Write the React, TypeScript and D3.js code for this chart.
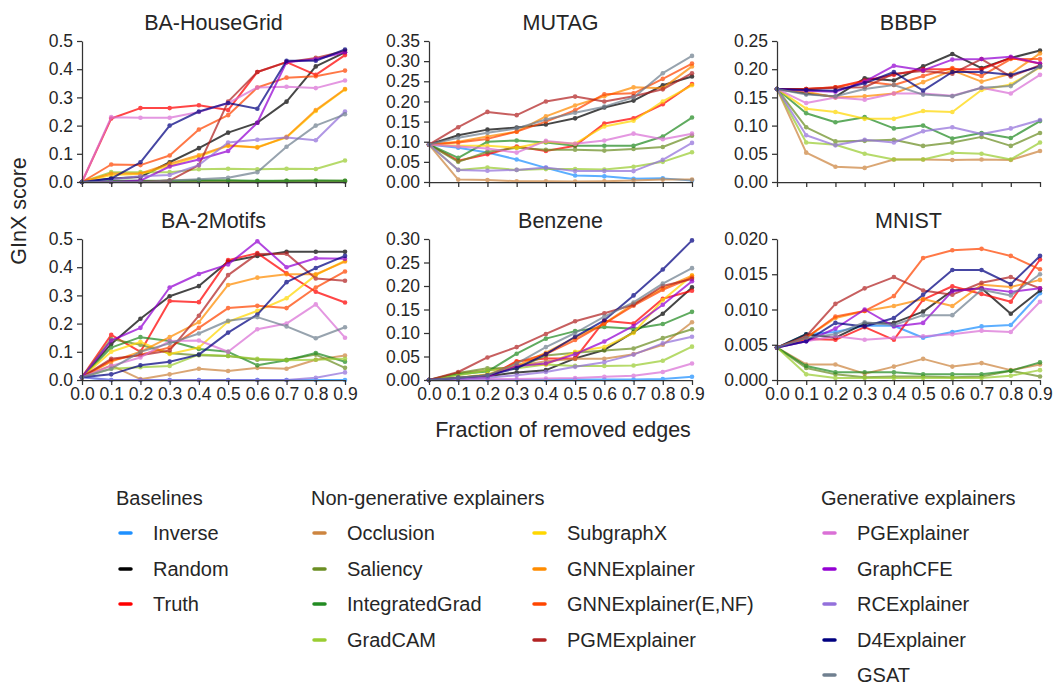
import React, { useEffect, useRef } from "react";
import * as d3 from "d3";

// x values shared by every panel
const fractions = [0, 0.1, 0.2, 0.3, 0.4, 0.5, 0.6, 0.7, 0.8, 0.9];

const methods = [
  "Inverse", "Random", "Truth",
  "Occlusion", "Saliency", "IntegratedGrad", "GradCAM",
  "SubgraphX", "GNNExplainer", "GNNExplainer(E,NF)", "PGMExplainer",
  "PGExplainer", "GraphCFE", "RCExplainer", "D4Explainer", "GSAT",
];
const methodColors = [
  "#1E90FF", "#000000", "#FF0000",
  "#CD853F", "#6B8E23", "#228B22", "#9ACD32",
  "#FFD700", "#FF8C00", "#FF4500", "#B22222",
  "#DA70D6", "#9400D3", "#9370DB", "#000080", "#708090",
];
const groupTitles = ["Baselines", "Non-generative explainers", "Generative explainers"];
const groupSizes = [3, 8, 5];

// one row per method (same order as methods), null = not shown
const baHouseGrid = [
  [0, 0.002, 0.002, 0.002, 0.002, 0.002, 0.002, 0.002, 0.002, 0.002],
  [0, 0.012, 0.018, 0.07, 0.12, 0.175, 0.21, 0.285, 0.41, 0.46],
  [0, 0.225, 0.262, 0.262, 0.272, 0.255, 0.39, 0.425, 0.38, 0.45],
  [0, 0.002, 0.002, 0.002, 0.002, 0.002, 0.002, 0.002, 0.002, 0.002],
  [0, 0.003, 0.003, 0.004, 0.004, 0.004, 0.003, 0.004, 0.004, 0.004],
  [0, 0.005, 0.004, 0.004, 0.006, 0.006, 0.004, 0.004, 0.005, 0.004],
  [0, 0.035, 0.035, 0.035, 0.045, 0.047, 0.045, 0.047, 0.046, 0.076],
  [0, 0.025, 0.028, 0.058, 0.09, 0.128, 0.124, 0.158, 0.252, 0.328],
  [0, 0.03, 0.03, 0.065, 0.095, 0.13, 0.122, 0.16, 0.255, 0.33],
  [0, 0.062, 0.06, 0.094, 0.186, 0.237, 0.335, 0.37, 0.375, 0.395],
  [0, 0, 0, 0.005, 0.06, 0.285, 0.39, 0.425, 0.44, 0.465],
  [0, 0.23, 0.228, 0.228, 0.248, 0.28, 0.335, 0.338, 0.333, 0.36],
  [0, 0, 0.005, 0.055, 0.08, 0.11, 0.21, 0.425, 0.435, 0.46],
  [0, 0.01, 0.02, 0.025, 0.06, 0.14, 0.15, 0.158, 0.148, 0.25],
  [0, 0.012, 0.07, 0.2, 0.25, 0.28, 0.26, 0.43, 0.43, 0.47],
  [0, 0, 0, 0.005, 0.01, 0.015, 0.035, 0.125, 0.2, 0.24],
];

const mutag = [
  [0.093, 0.085, 0.073, 0.056, 0.035, 0.016, 0.014, 0.008, 0.009, 0.004],
  [0.093, 0.116, 0.13, 0.135, 0.143, 0.158, 0.185, 0.202, 0.24, 0.262],
  [0.093, 0.053, 0.069, 0.088, 0.077, 0.09, 0.145, 0.158, 0.193, 0.243],
  [0.093, 0.006, 0.005, 0.002, 0.002, 0.001, 0.002, 0.004, 0.006, 0.006],
  [0.093, 0.05, 0.075, 0.085, 0.08, 0.08, 0.078, 0.082, 0.087, 0.115],
  [0.093, 0.06, 0.1, 0.103, 0.098, 0.09, 0.09, 0.09, 0.113, 0.16],
  [0.093, 0.03, 0.036, 0.03, 0.032, 0.032, 0.031, 0.038, 0.05, 0.074],
  [0.093, 0.09, 0.09, 0.085, 0.1, 0.095, 0.138, 0.152, 0.2, 0.24],
  [0.093, 0.1, 0.113, 0.125, 0.163, 0.19, 0.213, 0.235, 0.233, 0.287],
  [0.093, 0.098, 0.107, 0.125, 0.15, 0.178, 0.218, 0.22, 0.256, 0.294],
  [0.093, 0.136, 0.174, 0.166, 0.2, 0.212, 0.2, 0.213, 0.23, 0.27],
  [0.093, 0.088, 0.083, 0.073, 0.102, 0.095, 0.103, 0.12, 0.106, 0.12],
  null,
  [0.093, 0.03, 0.028, 0.03, 0.036, 0.027, 0.027, 0.027, 0.055, 0.097],
  null,
  [0.093, 0.11, 0.122, 0.133, 0.155, 0.172, 0.187, 0.21, 0.27, 0.313],
];

const bbbp = [
  null,
  [0.165, 0.157, 0.151, 0.184, 0.18, 0.205, 0.227, 0.202, 0.22, 0.233],
  [0.165, 0.165, 0.168, 0.18, 0.19, 0.2, 0.2, 0.2, 0.22, 0.21],
  [0.165, 0.052, 0.027, 0.025, 0.04, 0.04, 0.039, 0.04, 0.039, 0.055],
  [0.165, 0.097, 0.072, 0.073, 0.075, 0.064, 0.07, 0.08, 0.064, 0.087],
  [0.165, 0.122, 0.106, 0.115, 0.095, 0.1, 0.077, 0.087, 0.078, 0.108],
  [0.165, 0.07, 0.066, 0.05, 0.04, 0.04, 0.052, 0.05, 0.04, 0.07],
  [0.165, 0.13, 0.124, 0.112, 0.112, 0.126, 0.124, 0.163, 0.173, 0.203],
  [0.165, 0.16, 0.15, 0.152, 0.157, 0.177, 0.198, 0.178, 0.192, 0.228],
  [0.165, 0.165, 0.168, 0.178, 0.172, 0.188, 0.202, 0.188, 0.218, 0.218],
  [0.165, 0.165, 0.167, 0.168, 0.192, 0.197, 0.192, 0.218, 0.187, 0.207],
  [0.165, 0.14, 0.15, 0.146, 0.157, 0.157, 0.153, 0.167, 0.157, 0.19],
  [0.165, 0.162, 0.16, 0.178, 0.206, 0.198, 0.217, 0.218, 0.222, 0.21],
  [0.165, 0.083, 0.065, 0.075, 0.07, 0.09, 0.097, 0.085, 0.095, 0.11],
  [0.165, 0.163, 0.162, 0.175, 0.195, 0.162, 0.195, 0.195, 0.19, 0.205],
  [0.165, 0.155, 0.152, 0.165, 0.172, 0.155, 0.152, 0.167, 0.17, 0.205],
];

const ba2Motifs = [
  [0.01, 0, 0, 0, 0, 0, 0, 0, 0, 0],
  [0.01, 0.128, 0.217, 0.297, 0.333, 0.42, 0.44, 0.455, 0.455, 0.455],
  [0.01, 0.16, 0.1, 0.28, 0.276, 0.425, 0.45, 0.378, 0.313, 0.275],
  [0.01, 0.052, 0.003, 0.02, 0.04, 0.032, 0.043, 0.04, 0.072, 0.087],
  [0.01, 0.145, 0.125, 0.095, 0.088, 0.085, 0.072, 0.072, 0.09, 0.043],
  [0.01, 0.115, 0.152, 0.138, 0.11, 0.1, 0.052, 0.07, 0.096, 0.065],
  [0.01, 0.04, 0.045, 0.05, 0.09, 0.085, 0.075, 0.07, 0.072, 0.075],
  [0.01, 0.1, 0.135, 0.092, 0.115, 0.207, 0.245, 0.29, 0.372, 0.423],
  [0.01, 0.065, 0.1, 0.152, 0.205, 0.337, 0.363, 0.375, 0.375, 0.42],
  [0.01, 0.07, 0.09, 0.115, 0.185, 0.255, 0.263, 0.255, 0.328, 0.385],
  [0.01, 0.075, 0.088, 0.105, 0.228, 0.372, 0.447, 0.448, 0.36, 0.352],
  [0.01, 0.05, 0.08, 0.138, 0.14, 0.1, 0.18, 0.2, 0.268, 0.15],
  [0.01, 0.14, 0.185, 0.328, 0.376, 0.41, 0.492, 0.4, 0.432, 0.43],
  [0.01, 0, 0, 0, 0, 0, 0, 0, 0.008, 0.027],
  [0.01, 0.02, 0.052, 0.065, 0.09, 0.168, 0.232, 0.347, 0.397, 0.44],
  [0.01, 0.04, 0.1, 0.13, 0.165, 0.21, 0.223, 0.19, 0.148, 0.187],
];

const benzene = [
  [0, 0, 0, 0, 0, 0.001, 0.001, 0.001, 0.002, 0.007],
  [0, 0.003, 0.008, 0.016, 0.021, 0.046, 0.064, 0.102, 0.141, 0.197],
  [0, 0.003, 0.006, 0.04, 0.046, 0.046, 0.126, 0.12, 0.173, 0.19],
  [0, 0.015, 0.02, 0.03, 0.04, 0.045, 0.045, 0.055, 0.075, 0.123],
  [0, 0.015, 0.025, 0.025, 0.052, 0.058, 0.063, 0.067, 0.089, 0.108],
  [0, 0.012, 0.018, 0.056, 0.088, 0.104, 0.113, 0.109, 0.119, 0.145],
  [0, 0.01, 0.02, 0.025, 0.033, 0.03, 0.03, 0.031, 0.041, 0.071],
  [0, 0.005, 0.012, 0.033, 0.033, 0.06, 0.07, 0.1, 0.17, 0.222],
  [0, 0.005, 0.01, 0.03, 0.058, 0.09, 0.12, 0.162, 0.195, 0.222],
  [0, 0.003, 0.008, 0.038, 0.055, 0.085, 0.12, 0.158, 0.192, 0.218],
  [0, 0.017, 0.048, 0.07, 0.098, 0.125, 0.142, 0.16, 0.2, 0.215],
  [0, 0.001, 0.002, 0.002, 0.003, 0.004, 0.007, 0.009, 0.017, 0.035],
  [0, 0.003, 0.006, 0.03, 0.035, 0.055, 0.082, 0.115, 0.16, 0.21],
  [0, 0.002, 0.005, 0.01, 0.017, 0.028, 0.038, 0.054, 0.078, 0.092],
  [0, 0.005, 0.01, 0.025, 0.055, 0.092, 0.127, 0.18, 0.235, 0.297],
  [0, 0.005, 0.01, 0.035, 0.07, 0.1, 0.135, 0.165, 0.205, 0.238],
];

const mnist = [
  [0.0046, 0.0065, 0.0068, 0.0077, 0.0077, 0.006, 0.0068, 0.0076, 0.0078, 0.0123],
  [0.0046, 0.0065, 0.006, 0.008, 0.0081, 0.0097, 0.0127, 0.013, 0.0094, 0.0127],
  [0.0046, 0.0058, 0.0057, 0.0075, 0.0057, 0.0114, 0.0133, 0.0122, 0.0111, 0.0171],
  [0.0046, 0.0022, 0.0022, 0.0009, 0.0019, 0.003, 0.0019, 0.0024, 0.0014, 0.0022],
  [0.0046, 0.0017, 0.0008, 0.0004, 0.0005, 0.0005, 0.0004, 0.0005, 0.0013, 0.0005],
  [0.0046, 0.002, 0.0011, 0.0011, 0.0011, 0.0008, 0.0008, 0.0008, 0.0013, 0.0025],
  [0.0046, 0.0008, 0.0003, 0.0003, 0.0003, 0.0003, 0.0003, 0.0003, 0.0006, 0.0014],
  null,
  [0.0046, 0.006, 0.0088, 0.0098, 0.0105, 0.0115, 0.0105, 0.0135, 0.0132, 0.0142],
  [0.0046, 0.006, 0.009, 0.0098, 0.0119, 0.0173, 0.0184, 0.0186, 0.0176, 0.0157],
  [0.0046, 0.0062, 0.0108, 0.013, 0.0146, 0.0127, 0.0121, 0.0138, 0.0146, 0.013],
  [0.0046, 0.0055, 0.0062, 0.0057, 0.006, 0.0062, 0.0065, 0.007, 0.0068, 0.0111],
  [0.0046, 0.0055, 0.0073, 0.01, 0.0076, 0.0081, 0.0126, 0.013, 0.0125, 0.013],
  null,
  [0.0046, 0.0055, 0.0081, 0.0076, 0.0088, 0.0121, 0.0156, 0.0156, 0.0136, 0.0176],
  [0.0046, 0.006, 0.0065, 0.0082, 0.0078, 0.0092, 0.0092, 0.0128, 0.012, 0.015],
];

const datasetNames = ["BA-HouseGrid", "MUTAG", "BBBP", "BA-2Motifs", "Benzene", "MNIST"];
const datasetValues = [baHouseGrid, mutag, bbbp, ba2Motifs, benzene, mnist];
const yMaxes = [0.5, 0.35, 0.25, 0.5, 0.3, 0.02];
const yTickSteps = [0.1, 0.05, 0.05, 0.1, 0.05, 0.005];
const yTickDigits = [1, 2, 2, 1, 2, 3];

const FONT = "'Liberation Sans', Arial, sans-serif";
const TEXT = "#262626";

const App = () => {
  const svgRef = useRef(null);

  useEffect(() => {
    const svg = d3.select(svgRef.current);
    svg.selectAll("*").remove();

    const colLeft = [82, 429, 777];
    const rowTop = [41, 239];
    const plotW = 263;
    const plotH = 141;

    const x = d3.scaleLinear().domain([0, 0.9]).range([0, plotW]);

    datasetNames.forEach((name, i) => {
      const col = i % 3;
      const row = Math.floor(i / 3);
      const g = svg.append("g").attr("transform", `translate(${colLeft[col]},${rowTop[row]})`);
      const y = d3.scaleLinear().domain([0, yMaxes[i]]).range([plotH, 0]);

      const nTicks = Math.round(yMaxes[i] / yTickSteps[i]);
      const yTicks = d3.range(nTicks + 1).map((k) => k * yTickSteps[i]);

      const yAxis = d3.axisLeft(y)
        .tickValues(yTicks)
        .tickFormat(d3.format(`.${yTickDigits[i]}f`))
        .tickSize(5)
        .tickSizeOuter(0)
        .tickPadding(4);
      const xAxis = d3.axisBottom(x)
        .tickValues(fractions)
        .tickFormat(row === 1 ? d3.format(".1f") : () => "")
        .tickSize(5)
        .tickSizeOuter(0)
        .tickPadding(3);

      const lineGen = d3.line()
        .x((d, k) => x(fractions[k]))
        .y((d) => y(d));

      datasetValues[i].forEach((vals, m) => {
        if (!vals) return;
        const s = g.append("g").attr("opacity", 0.72);
        s.append("path")
          .attr("d", lineGen(vals))
          .attr("fill", "none")
          .attr("stroke", methodColors[m])
          .attr("stroke-width", 2)
          .attr("stroke-linejoin", "round");
        s.selectAll("circle")
          .data(vals)
          .join("circle")
          .attr("cx", (d, k) => x(fractions[k]))
          .attr("cy", (d) => y(d))
          .attr("r", 2.3)
          .attr("fill", methodColors[m]);
      });

      const ya = g.append("g").call(yAxis);
      const xa = g.append("g").attr("transform", `translate(0,${plotH})`).call(xAxis);
      [ya, xa].forEach((a) => {
        a.selectAll("path, line").attr("stroke", "#333").attr("stroke-width", 1.25);
        a.selectAll("text").attr("font-size", 17.5).attr("font-family", FONT).attr("fill", TEXT);
      });

      g.append("text")
        .attr("x", plotW / 2)
        .attr("y", -11)
        .attr("text-anchor", "middle")
        .attr("font-size", 21.5)
        .attr("font-family", FONT)
        .attr("fill", TEXT)
        .text(name);
    });

    svg.append("text")
      .attr("transform", "translate(26,211) rotate(-90)")
      .attr("text-anchor", "middle")
      .attr("font-size", 21.5)
      .attr("font-family", FONT)
      .attr("fill", TEXT)
      .text("GInX score");

    svg.append("text")
      .attr("x", 563)
      .attr("y", 437)
      .attr("text-anchor", "middle")
      .attr("font-size", 21.5)
      .attr("font-family", FONT)
      .attr("fill", TEXT)
      .text("Fraction of removed edges");

    // legend
    const headerX = [116, 311, 821];
    const itemCols = [[120], [314, 534], [824]];
    const rowsPerCol = 4;
    const rowY = [533, 569, 604, 640, 675];
    let idx = 0;
    groupTitles.forEach((title, gi) => {
      svg.append("text")
        .attr("x", headerX[gi])
        .attr("y", 505)
        .attr("font-size", 20)
        .attr("font-family", FONT)
        .attr("fill", TEXT)
        .text(title);
      for (let k = 0; k < groupSizes[gi]; k++) {
        const m = idx + k;
        const cols = itemCols[gi];
        const c = cols.length > 1 ? Math.floor(k / rowsPerCol) : 0;
        const r = cols.length > 1 ? k % rowsPerCol : k;
        const lx = cols[c];
        const ly = rowY[r];
        svg.append("line")
          .attr("x1", lx).attr("x2", lx + 11)
          .attr("y1", ly).attr("y2", ly)
          .attr("stroke", methodColors[m])
          .attr("stroke-width", 3.5)
          .attr("stroke-linecap", "round");
        svg.append("text")
          .attr("x", lx + 33)
          .attr("y", ly + 7)
          .attr("font-size", 20)
          .attr("font-family", FONT)
          .attr("fill", TEXT)
          .text(methods[m]);
      }
      idx += groupSizes[gi];
    });
  }, []);

  return (
    <svg
      ref={svgRef}
      width={1053}
      height={683}
      style={{ position: "absolute", left: 0, top: 0, background: "#fff" }}
    />
  );
};

export default App;
